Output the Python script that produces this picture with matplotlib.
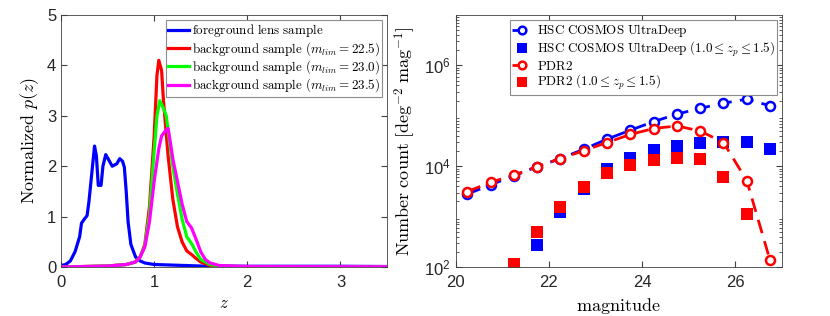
import numpy as np
import matplotlib
matplotlib.use("Agg")
from matplotlib import pyplot as plt

plt.rcParams['mathtext.fontset'] = 'cm'
plt.rcParams['font.family'] = ['Liberation Sans', 'DejaVu Sans']

# left panel: normalized p(z)
z_fg = [0, 0.05, 0.1, 0.15, 0.2, 0.22, 0.25, 0.28, 0.3, 0.33, 0.36, 0.38, 0.4, 0.43,
        0.45, 0.48, 0.52, 0.55, 0.6, 0.63, 0.66, 0.68, 0.7, 0.72, 0.75, 0.8, 0.85,
        0.9, 1.0, 1.5, 2.0, 3.0, 3.5]
p_fg = [0.03, 0.05, 0.12, 0.3, 0.6, 0.87, 0.95, 1.02, 1.3, 1.85, 2.4, 2.2, 1.62, 1.62,
        2.0, 2.23, 2.1, 2.0, 2.05, 2.15, 2.1, 1.98, 1.5, 0.9, 0.45, 0.2, 0.12,
        0.08, 0.05, 0.02, 0.015, 0.015, 0.01]

z_225 = [0, 0.5, 0.7, 0.8, 0.85, 0.9, 0.95, 1.0, 1.03, 1.05, 1.08, 1.1, 1.15, 1.2,
         1.25, 1.3, 1.35, 1.4, 1.45, 1.5, 1.6, 1.8, 2.0, 3.5]
p_225 = [0.0, 0.02, 0.05, 0.1, 0.2, 0.45, 1.2, 2.6, 3.8, 4.1, 3.9, 3.3, 2.2, 1.35,
         0.8, 0.5, 0.32, 0.25, 0.17, 0.1, 0.03, 0.01, 0.005, 0.0]

z_230 = [0, 0.5, 0.7, 0.8, 0.85, 0.9, 0.95, 1.0, 1.03, 1.06, 1.1, 1.13, 1.15, 1.2,
         1.25, 1.3, 1.35, 1.4, 1.45, 1.5, 1.6, 1.7, 2.0, 3.5]
p_230 = [0.0, 0.02, 0.05, 0.1, 0.2, 0.42, 1.05, 2.3, 3.0, 3.3, 3.15, 3.0, 2.7, 2.0,
         1.45, 0.95, 0.6, 0.47, 0.3, 0.15, 0.05, 0.02, 0.005, 0.0]

z_235 = [0, 0.5, 0.7, 0.8, 0.85, 0.9, 0.95, 1.0, 1.05, 1.08, 1.12, 1.15, 1.18, 1.2,
         1.25, 1.3, 1.35, 1.4, 1.45, 1.5, 1.55, 1.6, 1.7, 2.0, 3.5]
p_235 = [0.0, 0.02, 0.05, 0.1, 0.2, 0.4, 0.9, 1.7, 2.35, 2.6, 2.7, 2.75, 2.4, 2.15,
         1.7, 1.25, 0.9, 0.78, 0.55, 0.3, 0.15, 0.08, 0.03, 0.01, 0.005]

# right panel: number counts
mag = [20.25, 20.75, 21.25, 21.75, 22.25, 22.75, 23.25, 23.75, 24.25, 24.75,
       25.25, 25.75, 26.25, 26.75]
n_ud = [2800, 4270, 6450, 9800, 14200, 21700, 34500, 51800, 76700, 108000,
        141000, 178000, 214000, 158000]
n_pdr2 = [3140, 4800, 6670, 9800, 14200, 20300, 29500, 42700, 56000, 63000,
          50000, 29500, 5200, 135]
mag_ud_z = [21.25, 21.75, 22.25, 22.75, 23.25, 23.75, 24.25, 24.75, 25.25, 25.75,
            26.25, 26.75]
n_ud_z = [100, 276, 1260, 3500, 8700, 14800, 21300, 25100, 28700, 30500, 30500, 21700]
mag_pdr2_z = [21.25, 21.75, 22.25, 22.75, 23.25, 23.75, 24.25, 24.75, 25.25, 25.75,
              26.25]
n_pdr2_z = [113, 490, 1540, 3800, 7300, 10700, 13200, 14500, 13800, 6000, 1130]

fig = plt.figure(figsize=(8.3, 3.16), dpi=100)
ax1 = fig.add_axes([0.0735, 0.155, 0.3928, 0.7975])
ax2 = fig.add_axes([0.549, 0.155, 0.3928, 0.7975])

lw = 2.3
ax1.plot(z_fg, p_fg, color='#0000ff', lw=lw, label=r'$\mathrm{foreground\ lens\ sample}$')
ax1.plot(z_225, p_225, color='#ff0000', lw=lw,
         label=r'$\mathrm{background\ sample\ (}m_{lim}=22.5\mathrm{)}$')
ax1.plot(z_230, p_230, color='#00ff00', lw=lw,
         label=r'$\mathrm{background\ sample\ (}m_{lim}=23.0\mathrm{)}$')
ax1.plot(z_235, p_235, color='#ff00ff', lw=lw,
         label=r'$\mathrm{background\ sample\ (}m_{lim}=23.5\mathrm{)}$')
ax1.set_xlim(0, 3.5)
ax1.set_ylim(0, 5)
ax1.set_xticks([0, 1, 2, 3])
ax1.set_yticks([0, 1, 2, 3, 4, 5])
ax1.set_xlabel(r'$z$', fontsize=12)
ax1.set_ylabel(r'$\mathrm{Normalized}\ p(z)$', fontsize=13)
leg1 = ax1.legend(loc='upper right', fontsize=9.4, handlelength=1.6, handletextpad=0.2,
                  labelspacing=0.05, borderpad=0.2, borderaxespad=0.35,
                  fancybox=False, framealpha=1)
leg1.get_frame().set_edgecolor('#8c8c8c')
leg1.get_frame().set_linewidth(0.8)

ax2.plot(mag, n_ud, '--o', color='#0000ff', lw=2, ms=6.5, mew=1.8, mfc='white',
         dashes=(5, 3), label=r'$\mathrm{HSC\ COSMOS\ UltraDeep}$')
ax2.plot(mag_ud_z, n_ud_z, 's', color='#0000ff', ms=8.7, mew=0,
         label=r'$\mathrm{HSC\ COSMOS\ UltraDeep\ (1.0}\leq z_p\leq \mathrm{1.5)}$')
ax2.plot(mag, n_pdr2, '--o', color='#ff0000', lw=2, ms=6.5, mew=1.8, mfc='white',
         dashes=(5, 3), label=r'$\mathrm{PDR2}$')
ax2.plot(mag_pdr2_z, n_pdr2_z, 's', color='#ff0000', ms=8.7, mew=0,
         label=r'$\mathrm{PDR2\ (1.0}\leq z_p\leq \mathrm{1.5)}$')
ax2.set_yscale('log')
ax2.set_xlim(20, 27)
ax2.set_ylim(1e2, 1e7)
ax2.set_xticks([20, 22, 24, 26])
ax2.set_yticks([1e2, 1e4, 1e6])
ax2.set_xlabel(r'$\mathrm{magnitude}$', fontsize=13)
ax2.set_ylabel(r'$\mathrm{Number\ count\ [deg}^{-2}\ \mathrm{mag}^{-1}\mathrm{]}$', fontsize=13)
leg2 = ax2.legend(loc='upper right', fontsize=9.4, handlelength=1.5, handletextpad=0.35,
                  labelspacing=0.05, borderpad=0.2, borderaxespad=0.35,
                  fancybox=False, framealpha=1, markerscale=0.85)
leg2.get_frame().set_edgecolor('#8c8c8c')
leg2.get_frame().set_linewidth(0.8)

for ax in (ax1, ax2):
    for s in ax.spines.values():
        s.set_color('#404040')
        s.set_linewidth(0.6)
    ax.tick_params(which='both', direction='in', top=True, right=True,
                   labelsize=12, colors='#404040', labelcolor='#262626')
    ax.tick_params(which='major', length=4)
    ax.tick_params(which='minor', length=2)
    ax.tick_params(axis='x', pad=6)

fig.savefig('out.png', dpi=100)
